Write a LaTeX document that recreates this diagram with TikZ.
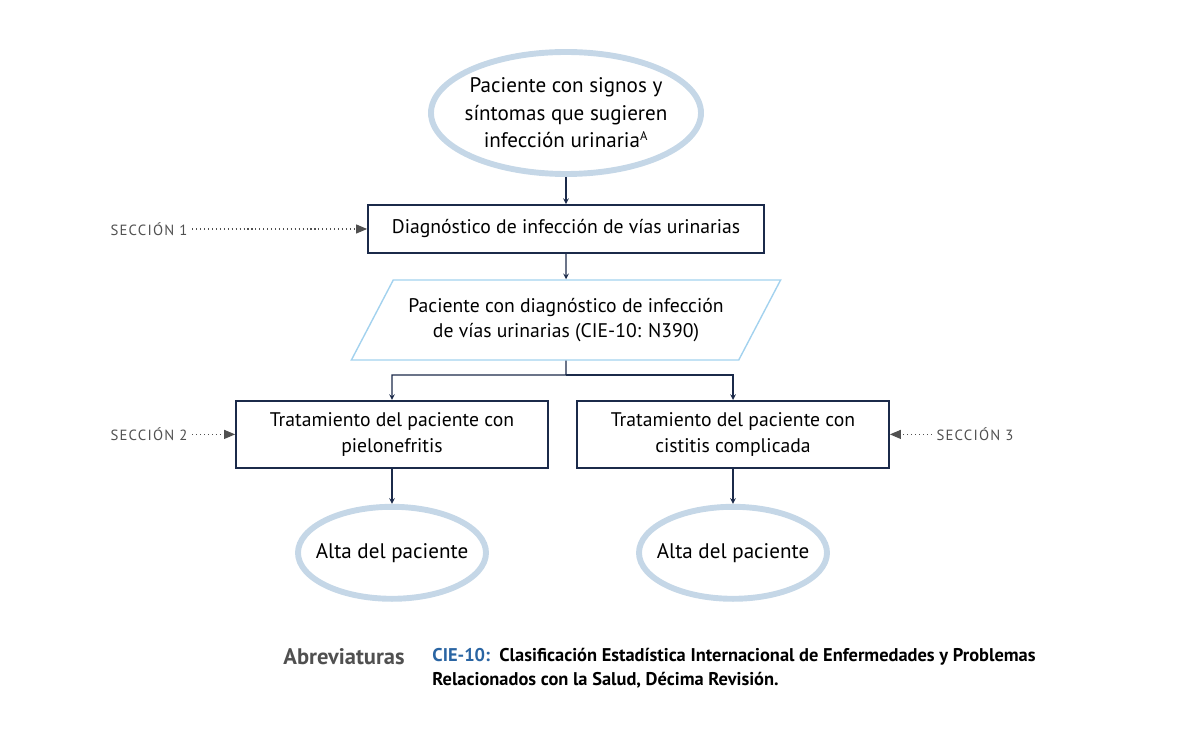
\documentclass[tikz,border=0pt]{standalone}
\usepackage{fontspec}
\setmainfont{PT Sans}
\newfontfamily\seccfont[LetterSpace=8]{PT Sans}
\usetikzlibrary{shapes.geometric, arrows, positioning}
\definecolor{azulosc}{HTML}{1B2A4A}
\definecolor{grisazul}{HTML}{C5D7E7}
\definecolor{celeste}{HTML}{A3D2EE}
\definecolor{grisosc}{HTML}{505050}
\definecolor{azulcie}{HTML}{2A65A3}

\begin{document}
\begin{tikzpicture}[node distance=2.9cm, font=\fontsize{14}{18}\selectfont]
\useasboundingbox (0,0) rectangle (29.525,-18.4);
\tikzstyle{inicio} = [ellipse, draw=grisazul, line width=4.2pt, inner xsep=-0.3cm, inner ysep=0pt, minimum width=6.75cm, minimum height=3.05cm, text centered, align=center, font=\fontsize{15}{19.5}\selectfont]
\tikzstyle{fin} = [inicio, minimum width=4.7cm, minimum height=2.3cm]
\tikzstyle{proceso} = [rectangle, draw=azulosc, line width=1.3pt, minimum width=7.8cm, minimum height=1.675cm, text centered, align=center]
\tikzstyle{datos} = [trapezium, trapezium left angle=53.5, trapezium right angle=126.5, trapezium stretches=true, draw=celeste, line width=1pt, minimum width=10.75cm, minimum height=2cm, text centered, align=center]
\tikzstyle{seccion} = [text=grisosc, font=\seccfont\fontsize{10.5}{12}\selectfont]
\tikzstyle{arrow} = [thick,->,>=stealth, draw=azulosc]
\tikzstyle{puntos} = [dotted, thick, -triangle 45, draw=grisosc]
 % formas del diagrama
\node (sintomas) [inicio] at (14.15,-2.825) {Paciente con signos y\\síntomas que sugieren\\infección urinaria\textsuperscript{\fontsize{9}{9}\selectfont A}};
\node (diag) [proceso, below of=sintomas, minimum width=9.9cm, minimum height=1.2cm] {Diagnóstico de infección de vías urinarias};
\node (pacdiag) [datos, below of=diag, node distance=2.275cm] {Paciente con diagnóstico de infección\\de vías urinarias (CIE-10: N390)};
\node (rama) [coordinate, below of=pacdiag, node distance=1.375cm] {};
\node (pielo) [proceso, below of=pacdiag, node distance=2.86cm, xshift=-4.35cm] {Tratamiento del paciente con\\pielonefritis};
\node (cistitis) [proceso, below of=pacdiag, node distance=2.86cm, xshift=4.175cm] {Tratamiento del paciente con\\cistitis complicada};
\node (alta1) [fin, below of=pielo, node distance=2.96cm] {Alta del paciente};
\node (alta2) [fin, below of=cistitis, node distance=2.96cm] {Alta del paciente};
\node (sec1) [seccion, left of=diag, node distance=10.425cm] {SECCIÓN 1};
\node (sec2) [seccion, left of=pielo, node distance=6.075cm] {SECCIÓN 2};
\node (sec3) [seccion, right of=cistitis, node distance=6.05cm] {SECCIÓN 3};
\node (abrev) [below of=alta1, node distance=2.6cm, xshift=-1.2cm, text=grisosc, font=\bfseries\fontsize{16}{20}\selectfont] {Abreviaturas};
\node (defi) [anchor=north west, xshift=0.45cm, yshift=0.02cm, align=left, font=\bfseries\fontsize{13.1}{17}\selectfont] at (abrev.north east) {\textcolor{azulcie}{CIE-10:}\ \ Clasificación Estadística Internacional de Enfermedades y Problemas\\Relacionados con la Salud, Décima Revisión.};

 % conectores
\draw [arrow](sintomas) -- (diag);
\draw [arrow](diag) -- (pacdiag);
\draw [arrow](pacdiag) -- (rama) -| (pielo);
\draw [arrow](rama) -| (cistitis);
\draw [arrow](pielo) -- (alta1);
\draw [arrow](cistitis) -- (alta2);
\draw [puntos](sec1) -- (diag);
\draw [puntos](sec2) -- (pielo);
\draw [puntos](sec3) -- (cistitis);
\end{tikzpicture}
\end{document}
